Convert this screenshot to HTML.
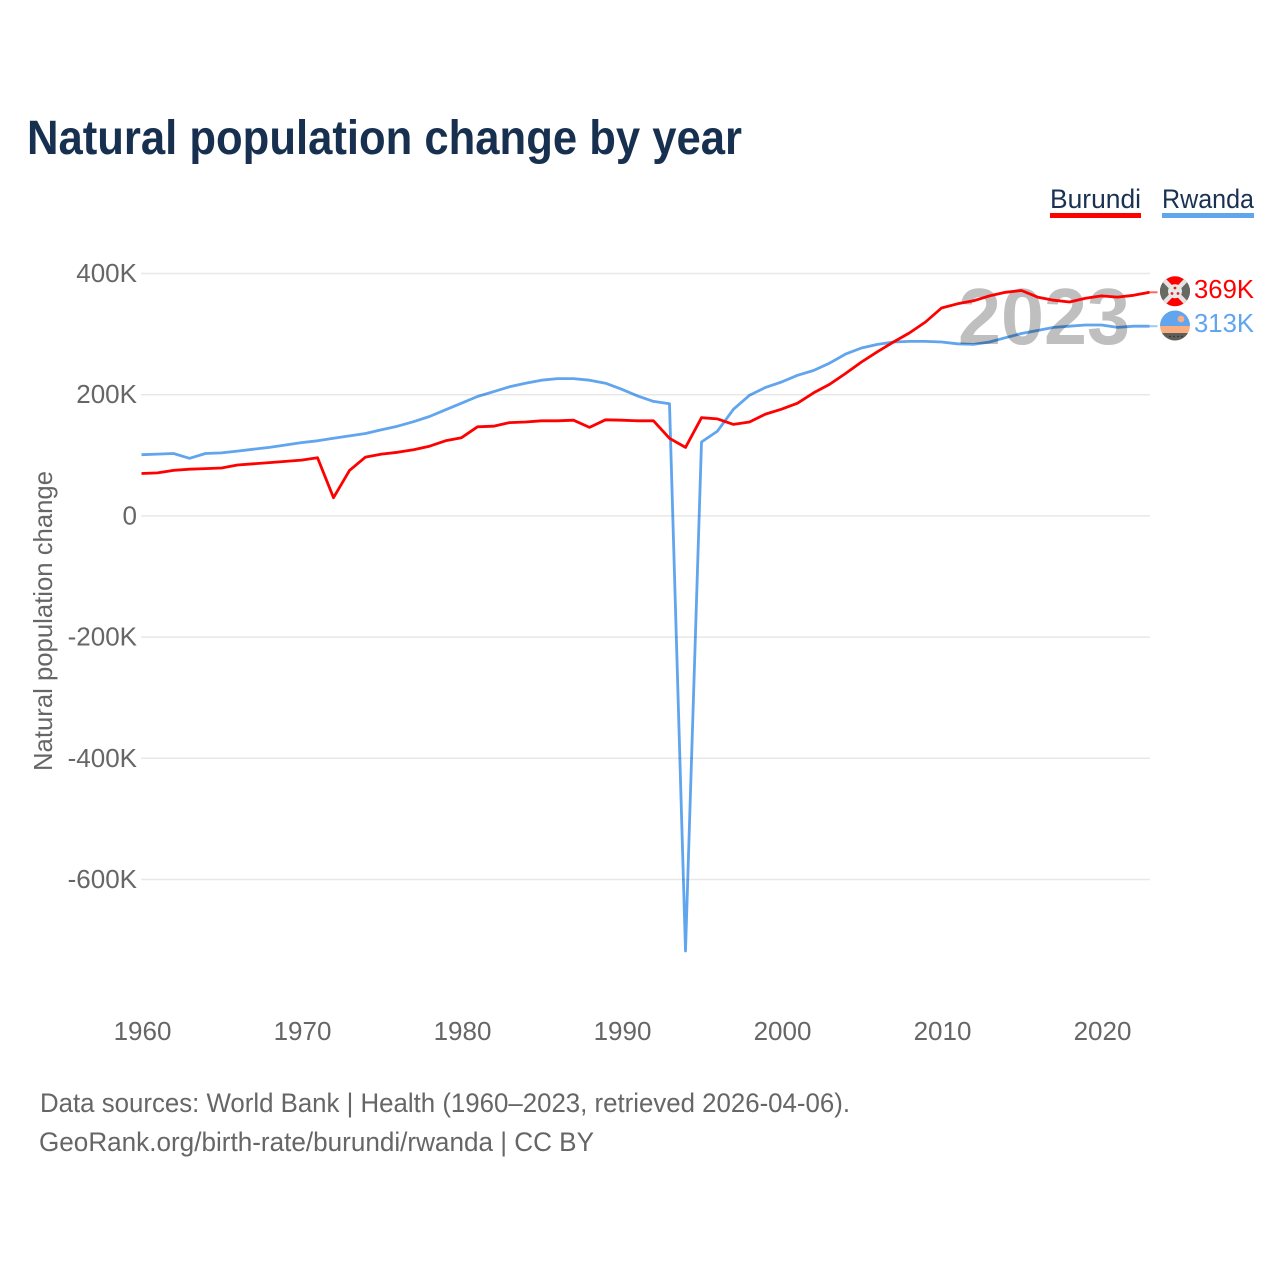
<!DOCTYPE html>
<html lang="en">
<head>
<meta charset="utf-8">
<title>Natural population change by year</title>
<style>
html,body{margin:0;padding:0;background:#fff;}
svg{display:block;font-family:"Liberation Sans",sans-serif;}
</style>
</head>
<body>
<svg id="chart" xmlns="http://www.w3.org/2000/svg" width="1280" height="1280" viewBox="0 0 1280 1280">
  <rect x="0" y="0" width="1280" height="1280" fill="#ffffff"/>
  <text x="27" y="154" font-size="48" font-weight="700" fill="#17304f" textLength="715" lengthAdjust="spacingAndGlyphs">Natural population change by year</text>

  <g>
    <g>
      <text x="1050" y="208" font-size="27" fill="#1a3152" textLength="91" lengthAdjust="spacingAndGlyphs">Burundi</text>
      <rect x="1050" y="213" width="91" height="5" fill="#ff0000"/>
    </g>
    <g>
      <text x="1162" y="208" font-size="27" fill="#1a3152" textLength="92" lengthAdjust="spacingAndGlyphs">Rwanda</text>
      <rect x="1162" y="213" width="92" height="5" fill="#60a5ee"/>
    </g>
  </g>

  <text transform="translate(52,771) rotate(-90)" x="0" y="0" font-size="26" fill="#666666" textLength="300" lengthAdjust="spacingAndGlyphs">Natural population change</text>

  <g id="grid"></g>
  <g id="yticks"></g>
  <g id="xticks"></g>

  <text x="958" y="344" font-size="80" font-weight="700" fill="#bfbfbf" textLength="172" lengthAdjust="spacingAndGlyphs">2023</text>

  <g id="series"></g>

  <defs>
    <clipPath id="clip-burundi"><circle cx="1175" cy="291.3" r="15"/></clipPath>
    <clipPath id="clip-rwanda"><circle cx="1175" cy="325.5" r="15"/></clipPath>
  </defs>

  <g clip-path="url(#clip-burundi)">
    <rect x="1160" y="276" width="30" height="31" fill="#ff0000"/>
    <polygon points="1160,276 1175,291.3 1160,307" fill="#666a62"/>
    <polygon points="1190,276 1175,291.3 1190,307" fill="#666a62"/>
    <line x1="1160" y1="276" x2="1190" y2="307" stroke="#e4e4e4" stroke-width="4.5"/>
    <line x1="1190" y1="276" x2="1160" y2="307" stroke="#e4e4e4" stroke-width="4.5"/>
    <circle cx="1175" cy="291.3" r="7" fill="#e8e8e8"/>
    <circle cx="1175" cy="288" r="1.4" fill="#e02020"/>
    <circle cx="1172" cy="293.5" r="1.4" fill="#e02020"/>
    <circle cx="1178" cy="293.5" r="1.4" fill="#e02020"/>
  </g>
  <g clip-path="url(#clip-rwanda)">
    <rect x="1160" y="310" width="30" height="16" fill="#60a5ee"/>
    <rect x="1160" y="326" width="30" height="7" fill="#f9ad81"/>
    <rect x="1160" y="333" width="30" height="8" fill="#5c5f5a"/>
    <circle cx="1181" cy="319" r="3.4" fill="#f9ad81"/>
    <circle cx="1170" cy="336.5" r="0.7" fill="#222222"/>
    <circle cx="1174" cy="336.5" r="0.7" fill="#222222"/>
    <circle cx="1178" cy="336.5" r="0.7" fill="#222222"/>
    <circle cx="1182" cy="336.5" r="0.7" fill="#222222"/>
  </g>

  <text x="1194" y="298" font-size="26" fill="#ff0000" textLength="60" lengthAdjust="spacingAndGlyphs">369K</text>
  <text x="1194" y="332" font-size="26" fill="#60a5ee" textLength="60" lengthAdjust="spacingAndGlyphs">313K</text>

  <text x="40" y="1112" font-size="27" fill="#666666" textLength="810" lengthAdjust="spacingAndGlyphs">Data sources: World Bank | Health (1960–2023, retrieved 2026-04-06).</text>
  <text x="39" y="1151" font-size="27" fill="#666666" textLength="555" lengthAdjust="spacingAndGlyphs">GeoRank.org/birth-rate/burundi/rwanda | CC BY</text>
</svg>
<script>
var startYear = 1960;
var xTickYears = [1960, 1970, 1980, 1990, 2000, 2010, 2020];
var yTickValues = [400, 200, 0, -200, -400, -600];
var yTickLabels = ['400K', '200K', '0', '-200K', '-400K', '-600K'];
var burundi = [70,71,75,77,78,79,84,86,88,90,92,96,30,75,97,102,105,109,115,124,129,147,148,154,155,157,157,158,146,158.5,158,157,157,128,113,162,160,151,155,168,176,186,203,217,235,254,271,287,302,320,343,350,355,363,369,372,361,356,353,359,363,361,364,369];
var rwanda = [101,102,103,95,103,104,107,110,113,117,121,124,128,132,136,142,148,155.5,164,175,186,197,205,213,219,224,226.5,226.5,224,219,209,198,189,185,-718,122,140,176,199,212,221,232,240,252,267,277,283,287,288,288,287,284,283,287,294,301,306,311,313,315,315,311,313,313];

var NS = 'http://www.w3.org/2000/svg';
function xScale(year) { return 141.5 + (year - 1960) * 16; }
function yScale(v) { return 515.9 - v * 0.606; }
function make(tag, attrs, parent) {
  var el = document.createElementNS(NS, tag);
  for (var k in attrs) { el.setAttribute(k, attrs[k]); }
  parent.appendChild(el);
  return el;
}

var grid = document.getElementById('grid');
var yticks = document.getElementById('yticks');
var xticks = document.getElementById('xticks');
var seriesGroup = document.getElementById('series');

yTickValues.forEach(function (v, i) {
  var line = make('line', {x1: 141, x2: 1150, y1: yScale(v), y2: yScale(v), stroke: '#e8e8e8', 'stroke-width': 1.5}, grid);
  
  
  var label = make('text', {x: 137, y: yScale(v) + 8.5, 'text-anchor': 'end', 'font-size': 26, fill: '#666666'}, yticks);
  
  
  label.textContent = yTickLabels[i];
});

xTickYears.forEach(function (year) {
  var label = make('text', {x: xScale(year) + 1, y: 1040, 'text-anchor': 'middle', 'font-size': 26, fill: '#666666'}, xticks);
  
  
  label.textContent = String(year);
});

function pathFor(values) {
  return values.map(function (v, i) {
    return (i ? 'L' : 'M') + xScale(startYear + i).toFixed(1) + ' ' + yScale(v).toFixed(1);
  }).join(' ');
}

var rwandaLine = make('path', {d: pathFor(rwanda), fill: 'none', stroke: '#60a5ee', 'stroke-width': 2.8, 'stroke-linejoin': 'round', style: 'mix-blend-mode:multiply'}, seriesGroup);



var burundiLine = make('path', {d: pathFor(burundi), fill: 'none', stroke: '#ff0000', 'stroke-width': 2.8, 'stroke-linejoin': 'round'}, seriesGroup);



var lastIndex = rwanda.length - 1;
var rwandaLead = make('line', {x1: xScale(startYear + lastIndex), x2: xScale(startYear + lastIndex) + 8, y1: yScale(rwanda[lastIndex]), y2: yScale(rwanda[lastIndex]), stroke: '#60a5ee', 'stroke-width': 2, opacity: 0.6}, seriesGroup);



var burundiLead = make('line', {x1: xScale(startYear + lastIndex), x2: xScale(startYear + lastIndex) + 8, y1: yScale(burundi[lastIndex]), y2: yScale(burundi[lastIndex]), stroke: '#ff0000', 'stroke-width': 2, opacity: 0.6}, seriesGroup);


</script>
</body>
</html>
